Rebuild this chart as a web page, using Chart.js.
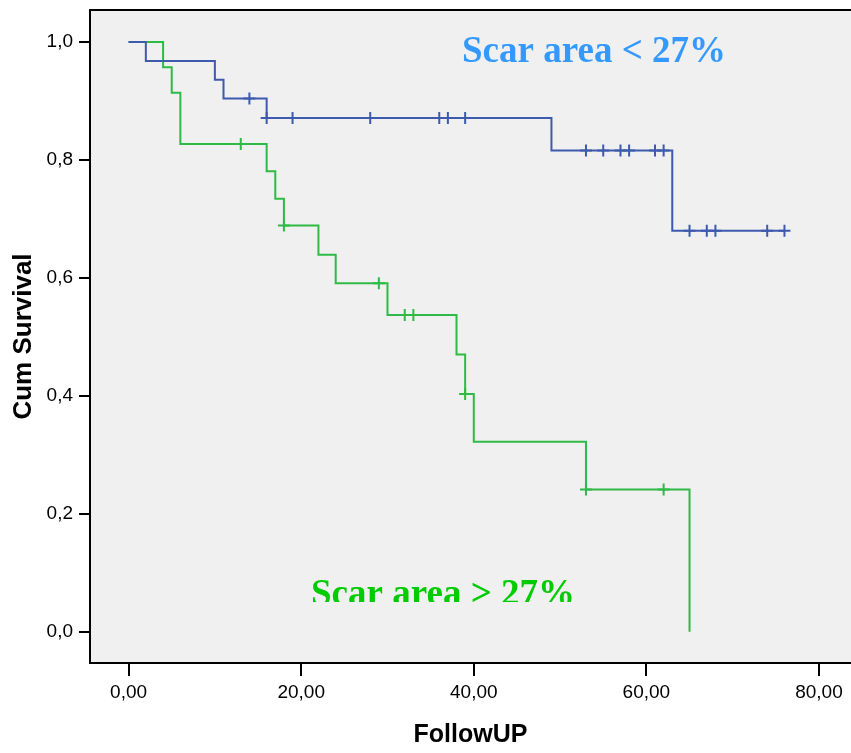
<!DOCTYPE html>
<html>
<head>
<meta charset="utf-8">
<script src="https://cdn.jsdelivr.net/npm/chart.js@4/dist/chart.umd.min.js"></script>
<style>
  html, body { margin: 0; padding: 0; background: #ffffff; overflow: hidden; }
  #wrap { width: 851px; height: 753px; overflow: hidden; }
  canvas { display: block; }
</style>
</head>
<body>
<div id="wrap"><canvas id="c" width="851" height="753"></canvas></div>
<script>
// ---- Data ----
const xTicks = [0, 20, 40, 60, 80];
const yTicks = [0, 0.2, 0.4, 0.6, 0.8, 1.0];

// Scar area < 27%  (blue)
const blueTimes = [0, 2, 10, 11, 16, 49, 63, 76];
const blueSurv  = [1.0, 0.968, 0.936, 0.904, 0.871, 0.816, 0.680, 0.680];
const blueCensorTimes = [14, 16, 19, 28, 36, 37, 39, 53, 55, 57, 58, 61, 62, 65, 67, 68, 74, 76];
const blueCensorSurv  = [0.904, 0.871, 0.871, 0.871, 0.871, 0.871, 0.871, 0.816, 0.816, 0.816, 0.816, 0.816, 0.816, 0.680, 0.680, 0.680, 0.680, 0.680];

// Scar area > 27%  (green)
const greenTimes = [0, 4, 5, 6, 16, 17, 18, 22, 24, 30, 38, 39, 40, 53, 65];
const greenSurv  = [1.0, 0.957, 0.914, 0.827, 0.781, 0.734, 0.689, 0.639, 0.591, 0.537, 0.470, 0.403, 0.322, 0.241, 0.0];
const greenCensorTimes = [13, 18, 29, 32, 33, 39, 53, 62];
const greenCensorSurv  = [0.827, 0.689, 0.591, 0.537, 0.537, 0.403, 0.241, 0.241];

const labelLow  = 'Scar area < 27%';
const labelHigh = 'Scar area > 27%';
const xTitle = 'FollowUP';
const yTitle = 'Cum Survival';

const BLUE = '#3D5AAE';
const GREEN = '#2FBA45';

function pts(xs, ys) { return xs.map((x, i) => ({ x: x, y: ys[i] })); }

function zeroPad(s) { s.paddingTop = 0; s.paddingBottom = 0; s.paddingLeft = 0; s.paddingRight = 0; }

const bgPlugin = {
  id: 'bg',
  beforeDraw(chart) {
    const ctx = chart.ctx, a = chart.chartArea;
    ctx.save();
    ctx.fillStyle = '#ffffff';
    ctx.fillRect(0, 0, chart.width, chart.height);
    ctx.fillStyle = '#F0F0F0';
    ctx.fillRect(a.left, a.top, a.right - a.left, a.bottom - a.top);
    ctx.restore();
  },
  afterDatasetsDraw(chart) {
    const ctx = chart.ctx, a = chart.chartArea;
    ctx.save();
    // top frame line
    ctx.strokeStyle = '#000';
    ctx.lineWidth = 2;
    ctx.beginPath();
    ctx.moveTo(a.left - 1, a.top);
    ctx.lineTo(a.right, a.top);
    ctx.stroke();
    // annotations
    ctx.font = 'bold 37px "Liberation Serif", "Times New Roman", serif';
    ctx.textAlign = 'center';
    ctx.textBaseline = 'alphabetic';
    ctx.fillStyle = '#3399FF';
    ctx.fillText(labelLow, 594, 62);
    ctx.beginPath();
    ctx.rect(a.left, a.top, a.right - a.left, 602 - a.top);
    ctx.clip();
    ctx.fillStyle = '#00CC00';
    ctx.fillText(labelHigh, 443, 605);
    ctx.restore();
  }
};

const tickFont = { family: '"Liberation Sans", Arial, sans-serif', size: 19 };
const titleFont = { family: '"Liberation Sans", Arial, sans-serif', size: 26, weight: 'bold' };

new Chart(document.getElementById('c'), {
  type: 'line',
  data: {
    datasets: [
      { label: labelLow, data: pts(blueTimes, blueSurv), borderColor: BLUE, borderWidth: 2, stepped: true, pointRadius: 0, fill: false },
      { label: labelHigh, data: pts(greenTimes, greenSurv), borderColor: GREEN, borderWidth: 2, stepped: true, pointRadius: 0, fill: false },
      { label: labelLow + ' censored', data: pts(blueCensorTimes, blueCensorSurv), showLine: false, pointStyle: 'cross', pointRadius: 6, pointBorderWidth: 2, pointBorderColor: BLUE, borderColor: BLUE },
      { label: labelHigh + ' censored', data: pts(greenCensorTimes, greenCensorSurv), showLine: false, pointStyle: 'cross', pointRadius: 6, pointBorderWidth: 2, pointBorderColor: GREEN, borderColor: GREEN }
    ]
  },
  options: {
    responsive: false,
    devicePixelRatio: 1,
    animation: false,
    layout: { autoPadding: false, padding: { top: 10, right: 0, left: 0, bottom: 0 } },
    plugins: { legend: { display: false }, tooltip: { enabled: false } },
    scales: {
      x: {
        type: 'linear',
        min: -4.47, max: 83.71,
        afterBuildTicks(s) { s.ticks = xTicks.map(v => ({ value: v })); },
        afterFit(s) { s.height = 90; zeroPad(s); },
        ticks: { font: tickFont, color: '#000', padding: 5, maxRotation: 0,
                 callback: v => v.toFixed(2).replace('.', ',') },
        grid: { drawOnChartArea: false, drawTicks: true, tickLength: 13, tickColor: '#000', tickWidth: 2, lineWidth: 2, color: '#000' },
        border: { display: true, color: '#000', width: 2 },
        title: { display: true, text: xTitle, font: { family: '"Liberation Sans", Arial, sans-serif', size: 25, weight: 'bold' }, color: '#000', padding: { top: 0, bottom: 3 } }
      },
      y: {
        type: 'linear',
        min: -0.0532, max: 1.0543,
        afterBuildTicks(s) { s.ticks = yTicks.map(v => ({ value: v })); },
        afterFit(s) { s.width = 90; zeroPad(s); },
        ticks: { font: tickFont, color: '#000', padding: 6,
                 callback: v => v.toFixed(1).replace('.', ',') },
        grid: { drawOnChartArea: false, drawTicks: true, tickLength: 11, tickColor: '#000', tickWidth: 2, lineWidth: 2, color: '#000' },
        border: { display: true, color: '#000', width: 2 },
        title: { display: true, text: yTitle, font: titleFont, color: '#000', padding: { top: 8, bottom: 0 } }
      }
    }
  },
  plugins: [bgPlugin]
});
</script>
</body>
</html>
